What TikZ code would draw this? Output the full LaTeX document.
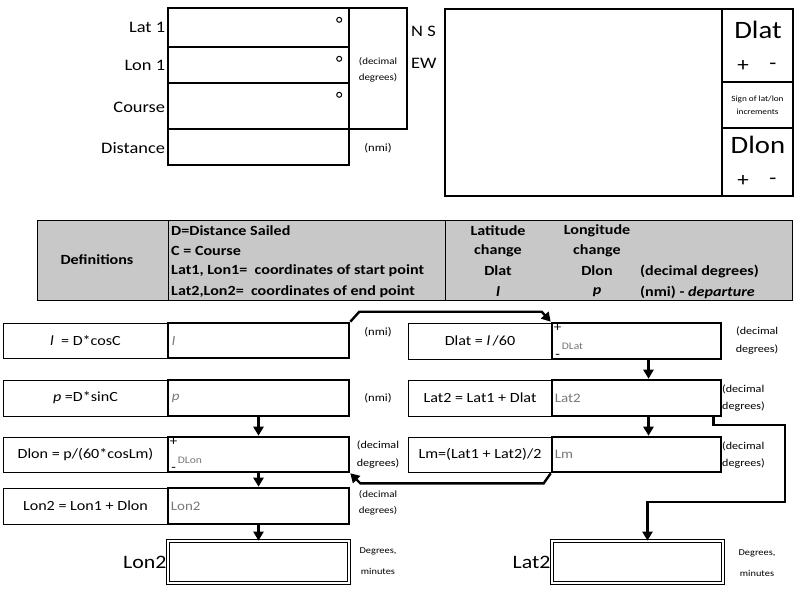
\documentclass[tikz,border=0pt]{standalone}
\usepackage{fontspec}
\setmainfont{Carlito}[FakeStretch=1.15]
\usetikzlibrary{arrows.meta,calc}
\newcommand\fsz[2]{\fontsize{#1}{#2}\selectfont}
\newcommand\rect[7]{\node[#1, minimum width={(#5-#3)*1pt}, minimum height={(#6-#4)*1pt}] (#2) at ({(#3+#5)/2},{(#4+#6)/2}) {#7};}
\definecolor{defgray}{RGB}{200,200,200}
\definecolor{valgray}{RGB}{120,120,120}
\tikzset{
  tk/.style={draw, line width=2.4pt, inner sep=0pt},
  fb/.style={draw, line width=0.8pt, inner sep=0pt, font=\fsz{14}{16}},
  vb/.style={draw, line width=2.6pt, inner sep=0pt},
  fin/.style={draw, double, double distance=2pt, line width=0.7pt, inner sep=0pt},
  defbox/.style={draw, fill=defgray, line width=0.8pt, inner sep=0pt},
  deft/.style={inner sep=0pt, font=\fsz{14}{16}\bfseries},
  lbl/.style={inner sep=1.5pt, font=\fsz{16}{18}},
  gv/.style={inner sep=0pt, text=valgray, font=\fsz{13}{15}},
  pm/.style={inner sep=0pt, font=\fsz{13}{13}},
  degc/.style={circle, draw, line width=1pt, minimum size=5pt, inner sep=0pt},
  conn/.style={line width=2.4pt, -{Triangle[length=9pt,width=10pt]}},
  note/.style={inner sep=0pt, align=center},
}
\begin{document}
\begin{tikzpicture}[x=1pt,y=-1pt]
\useasboundingbox (0,0) rectangle (800,595);
% ---------- top left inputs
\rect{tk}{lat1}{168}{8}{349}{47}{}
\rect{tk}{lon1}{168}{47}{349}{83}{}
\rect{tk}{course}{168}{83}{349}{129}{}
\rect{tk}{dist}{168}{129}{349}{165}{}
\rect{tk}{ddeg}{349}{8}{407}{129}{}
\node[lbl, anchor=east] (llat1) at (lat1.west) {Lat 1};
\node[lbl, anchor=east] (llon1) at ($(lon1.west)+(0,0)$) {Lon 1};
\node[lbl, anchor=east] (lcourse) at ($(course.west)+(0,1)$) {Course};
\node[lbl, anchor=east] (ldist) at ($(dist.west)+(0,1)$) {Distance};
\node[degc] (dg1) at ($(lat1.north east)+(-11,13)$) {};
\node[degc] (dg2) at ($(lon1.north east)+(-11,13)$) {};
\node[degc] (dg3) at ($(course.north east)+(-11,13)$) {};
\node[note, font=\fsz{9.5}{16}] (tdd) at ($(ddeg)+(0,1)$) {(decimal\\degrees)};
\node[note, font=\fsz{11}{13}] (tnmi) at (378,148) {(nmi)};
\node[lbl, anchor=west, inner sep=0pt] (tns) at (411,31) {N S};
\node[lbl, anchor=west, inner sep=0pt] (tew) at (411,63) {EW};
% ---------- top right
\rect{tk}{big}{445}{9}{722}{196}{}
\rect{tk}{dlatc}{722}{9}{793}{82}{}
\rect{tk}{signc}{722}{82}{793}{128}{}
\rect{tk}{dlonc}{722}{128}{793}{196}{}
\node[note, font=\fsz{25}{25}] (tdlat) at (758,30) {Dlat};
\node[note, font=\fsz{20}{20}] (tp1) at (743,66) {+};
\node[note, font=\fsz{20}{20}] (tm1) at (773,66) {-};
\node[note, font=\fsz{8}{13}] (tsign) at (signc) {Sign of lat/lon\\increments};
\node[note, font=\fsz{25}{25}] (tdlon) at (758,145) {Dlon};
\node[note, font=\fsz{20}{20}] (tp2) at (743,181) {+};
\node[note, font=\fsz{20}{20}] (tm2) at (773,181) {-};
% ---------- definitions
\rect{defbox}{defa}{37}{220}{168}{300}{}
\rect{defbox}{defb}{168}{220}{445}{300}{}
\rect{defbox}{defc}{445}{220}{792}{300}{}
\node[deft] (tdef) at (97,260) {Definitions};
\node[deft, anchor=west] (d1) at (171,231) {D=Distance Sailed};
\node[deft, anchor=west] (d2) at (171,251) {C = Course};
\node[deft, anchor=west] (d3) at (171,271) {Lat1, Lon1=\ \ coordinates of start point};
\node[deft, anchor=west] (d4) at (171,292) {Lat2,Lon2=\ \ coordinates of end point};
\node[deft] (e1) at (498,231) {Latitude};
\node[deft] (e2) at (498,251) {change};
\node[deft] (e3) at (498,271) {Dlat};
\node[deft] (e4) at (498,292) {\itshape l};
\node[deft] (g1t) at (597,231) {Longitude};
\node[deft] (g2t) at (597,251) {change};
\node[deft] (g3t) at (597,271) {Dlon};
\node[deft] (g4t) at (597,292) {\itshape p};
\node[deft, anchor=west] (h3) at (640,271) {(decimal degrees)};
\node[deft, anchor=west] (h4) at (640,292) {(nmi) - \itshape departure};
% ---------- left flow
\rect{fb}{f1}{3}{323}{168}{358}{\textit{l}\ \ = D*cosC}
\rect{fb}{f2}{3}{380}{168}{416}{\textit{p} =D*sinC}
\rect{fb}{f3}{3}{437}{168}{472}{Dlon = p/(60*cosLm)}
\rect{fb}{f4}{3}{488}{168}{524}{Lon2 = Lon1 + Dlon}
\rect{vb}{v1}{168}{323}{349}{358}{}
\rect{vb}{v2}{168}{380}{349}{416}{}
\rect{vb}{v3}{168}{437}{349}{472}{}
\rect{vb}{v4}{168}{488}{349}{524}{}
\rect{fin}{lon2f}{168}{541}{349}{583}{}
% ---------- right flow
\rect{fb}{g1}{408}{323}{552}{359}{Dlat = \textit{l}\,/60}
\rect{fb}{g2}{408}{380}{552}{416}{Lat2 = Lat1 + Dlat}
\rect{fb}{g3}{408}{437}{552}{472}{Lm=(Lat1 + Lat2)/2}
\rect{vb}{w1}{552}{323}{721}{359}{}
\rect{vb}{w2}{552}{380}{721}{416}{}
\rect{vb}{w3}{552}{437}{721}{472}{}
\rect{fin}{lat2f}{552}{541}{723}{583}{}
% ---------- values
\node[gv, anchor=west] (tv1) at ($(v1.west)+(5,0)$) {\itshape l};
\node[gv, anchor=west] (tv2) at ($(v2.west)+(5,0)$) {\itshape p};
\node[pm] (pv3) at ($(v3.north west)+(7,6)$) {+};
\node[pm] (mv3) at ($(v3.south west)+(7,-4)$) {-};
\node[gv, anchor=west, font=\fsz{10}{12}] (tv3) at ($(v3.west)+(11,6)$) {DLon};
\node[gv, anchor=west] (tv4) at ($(v4.west)+(4,0)$) {Lon2};
\node[pm] (pw1) at ($(w1.north west)+(7,6)$) {+};
\node[pm] (mw1) at ($(w1.south west)+(7,-4)$) {-};
\node[gv, anchor=west, font=\fsz{10}{12}] (tw1) at ($(w1.west)+(11,5)$) {DLat};
\node[gv, anchor=west] (tw2) at ($(w2.west)+(4,0)$) {Lat2};
\node[gv, anchor=west] (tw3) at ($(w3.west)+(4,0)$) {Lm};
% ---------- notes
\node[note, font=\fsz{11}{13}] (n1) at (378,332) {(nmi)};
\node[note, font=\fsz{11}{13}] (n2) at (378,398) {(nmi)};
\node[note, font=\fsz{10.5}{18}] (n3) at (378,455) {(decimal\\degrees)};
\node[note, font=\fsz{9.5}{16}] (n4) at (378,503) {(decimal\\degrees)};
\node[note, font=\fsz{9}{21}] (n5) at (378,561) {Degrees,\\minutes};
\node[note, font=\fsz{10.5}{18}, align=right] (m1) at (757,341) {(decimal\\degrees)};
\node[note, font=\fsz{10.5}{17}, align=left, anchor=west] (m2) at (722,398) {(decimal\\degrees)};
\node[note, font=\fsz{10.5}{17}, align=left, anchor=west] (m3) at (722,455) {(decimal\\degrees)};
\node[note, font=\fsz{9}{21}] (m5) at (757,563) {Degrees,\\minutes};
\node[anchor=east, inner sep=1pt, font=\fsz{19}{19}] (tlon2) at (lon2f.west) {Lon2};
\node[anchor=east, inner sep=1pt, font=\fsz{19}{19}] (tlat2) at (lat2f.west) {Lat2};
% ---------- connectors
\draw[conn] (v2.south) -- (v3.north);
\draw[conn] (v3.south) -- (v4.north);
\draw[conn] (v4.south) -- (lon2f.north);
\draw[conn] ($(w1.south)+(12,0)$) -- ($(w2.north)+(12,0)$);
\draw[conn] ($(w2.south)+(12,0)$) -- ($(w3.north)+(12,0)$);
\draw[conn] (v1.north east) -- ++(9,-10) -- ($(w1.north west)+(-9,-10)$) -- (w1.north west);
\draw[conn] (w3.south west) -- ++(-7,10) -- ($(v3.south east)+(10,10)$) -- (v3.south east);
\coordinate (k1) at (785,425);
\coordinate (k2) at (785,502);
\draw[conn] ($(w2.south east)+(-9,0)$) |- (k1) -- (k2) -| ($(lat2f.north)+(10,0)$);
\end{tikzpicture}
\end{document}
